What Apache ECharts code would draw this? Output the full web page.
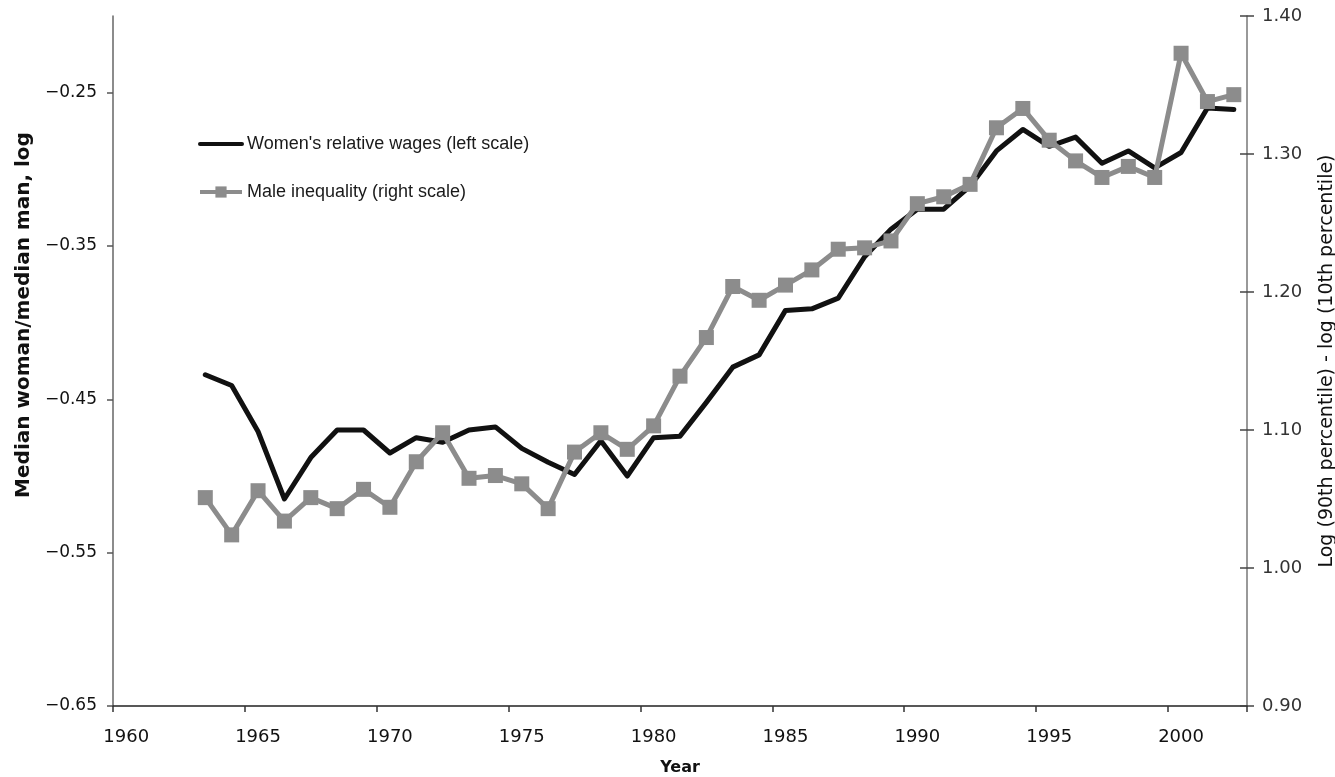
<!DOCTYPE html>
<html>
<head>
<meta charset="utf-8">
<title>Women's relative wages and male wage inequality</title>
<script src="https://cdn.jsdelivr.net/npm/echarts@6/dist/echarts.min.js"></script>
<style>
  html, body { margin: 0; padding: 0; background: #ffffff; }
  #chart { width: 1335px; height: 777px; }
</style>
</head>
<body>
<div id="chart"></div>
<script>
// Year categories of the horizontal axis (one band per year)
const axisYears = [];
for (let y = 1960; y <= 2002; y++) axisYears.push(String(y));

// Survey years with observations
const years = [
  1963, 1964, 1965, 1966, 1967, 1968, 1969, 1970, 1971, 1972,
  1973, 1974, 1975, 1976, 1977, 1978, 1979, 1980, 1981, 1982,
  1983, 1984, 1985, 1986, 1987, 1988, 1989, 1990, 1991, 1992,
  1993, 1994, 1995, 1996, 1997, 1998, 1999, 2000, 2001, 2002
];

// Log of median woman's wage relative to median man's wage (left scale)
const womenRelativeWages = [
  -0.434, -0.441, -0.471, -0.515, -0.488, -0.470, -0.470, -0.485, -0.475, -0.478,
  -0.470, -0.468, -0.482, -0.491, -0.499, -0.477, -0.500, -0.475, -0.474, -0.452,
  -0.429, -0.421, -0.392, -0.391, -0.384, -0.357, -0.339, -0.326, -0.326, -0.311,
  -0.288, -0.274, -0.285, -0.279, -0.296, -0.288, -0.299, -0.289, -0.260, -0.261
];

// Male log(90th percentile) - log(10th percentile) (right scale)
const maleInequality = [
  1.051, 1.024, 1.056, 1.034, 1.051, 1.043, 1.057, 1.044, 1.077, 1.098,
  1.065, 1.067, 1.061, 1.043, 1.084, 1.098, 1.086, 1.103, 1.139, 1.167,
  1.204, 1.194, 1.205, 1.216, 1.231, 1.232, 1.237, 1.264, 1.269, 1.278,
  1.319, 1.333, 1.310, 1.295, 1.283, 1.291, 1.283, 1.373, 1.338, 1.343
];

// Tick values
const leftTicks = [-0.65, -0.55, -0.45, -0.35, -0.25];
const rightTicks = [0.9, 1.0, 1.1, 1.2, 1.3, 1.4];

const pairs = (vals) => years.map((y, i) => [String(y), vals[i]]);
const fmtLeft = (v) => (v < 0 ? '\u2212' : '') + Math.abs(v).toFixed(2);
const fmtRight = (v) => v.toFixed(2);

const tickFont = 'DejaVu Sans';
const womenName = "Women's relative wages (left scale)";
const maleName = 'Male inequality (right scale)';

const chart = echarts.init(document.getElementById('chart'), null, { renderer: 'canvas' });

chart.setOption({
  animation: false,
  backgroundColor: '#ffffff',
  grid: { left: 113, right: 88, top: 16, bottom: 71, containLabel: false, outerBoundsMode: 'none' },
  legend: {
    orient: 'vertical',
    left: 198,
    top: 135,
    padding: 0,
    itemWidth: 42,
    itemHeight: 14,
    itemGap: 30,
    lineStyle: { width: 4 },
    data: [
      // plain line key: hide the placeholder marker
      { name: womenName, itemStyle: { color: 'rgba(0,0,0,0)', borderWidth: 0 } },
      { name: maleName }
    ],
    textStyle: { fontFamily: 'Liberation Sans', fontSize: 18, color: '#1a1a1a' }
  },
  xAxis: {
    type: 'category',
    data: axisYears,
    boundaryGap: true,
    name: 'Year',
    nameLocation: 'middle',
    nameGap: 54,
    nameTextStyle: { fontFamily: tickFont, fontWeight: 'bold', fontSize: 16, color: '#111' },
    axisLine: { show: true, lineStyle: { color: '#222', width: 1.5 } },
    axisTick: { show: true, interval: 4, length: 6, lineStyle: { color: '#333', width: 1.5 } },
    axisLabel: { interval: 4, margin: 22, fontFamily: tickFont, fontSize: 18, color: '#111' },
    splitLine: { show: false }
  },
  yAxis: [
    {
      type: 'value',
      position: 'left',
      min: -0.65,
      max: -0.20,
      name: 'Median woman/median man, log',
      nameLocation: 'middle',
      nameRotate: 90,
      nameGap: 78,
      // left padding lifts the title above the axis midpoint
      nameTextStyle: { fontFamily: tickFont, fontWeight: 'bold', fontSize: 20, color: '#111', padding: [0, 0, 0, 92] },
      axisLine: { show: true, lineStyle: { color: '#666', width: 1.5 } },
      axisTick: { show: true, length: 6, customValues: leftTicks, lineStyle: { color: '#555', width: 1.5 } },
      axisLabel: { customValues: leftTicks, formatter: fmtLeft, margin: 16, fontFamily: tickFont, fontSize: 17, color: '#111' },
      splitLine: { show: false }
    },
    {
      type: 'value',
      position: 'right',
      min: 0.9,
      max: 1.4,
      name: 'Log (90th percentile) - log (10th percentile)',
      nameLocation: 'middle',
      nameRotate: 90,
      nameGap: 71,
      nameTextStyle: { fontFamily: tickFont, fontSize: 19, color: '#111' },
      axisLine: { show: true, lineStyle: { color: '#777', width: 1.5 } },
      axisTick: { show: true, length: 7, customValues: rightTicks, lineStyle: { color: '#444', width: 1.5 } },
      axisLabel: { customValues: rightTicks, formatter: fmtRight, margin: 15, fontFamily: tickFont, fontSize: 18, color: '#333' },
      splitLine: { show: false }
    },
    {
      // inner half of the right-axis tick marks
      type: 'value',
      position: 'right',
      min: 0.9,
      max: 1.4,
      axisLine: { show: false },
      axisTick: { show: true, inside: true, length: 7, customValues: rightTicks, lineStyle: { color: '#444', width: 1.5 } },
      axisLabel: { show: false },
      splitLine: { show: false }
    }
  ],
  series: [
    {
      name: womenName,
      type: 'line',
      yAxisIndex: 0,
      data: pairs(womenRelativeWages),
      symbol: 'none',
      lineStyle: { color: '#111111', width: 5, cap: 'round', join: 'round' },
      itemStyle: { color: '#111111' },
      z: 2
    },
    {
      name: maleName,
      type: 'line',
      yAxisIndex: 1,
      data: pairs(maleInequality),
      symbol: 'rect',
      symbolSize: 15,
      showAllSymbol: true,
      lineStyle: { color: '#8c8c8c', width: 5, join: 'round' },
      itemStyle: { color: '#8c8c8c' },
      z: 3
    }
  ]
});
</script>
</body>
</html>
